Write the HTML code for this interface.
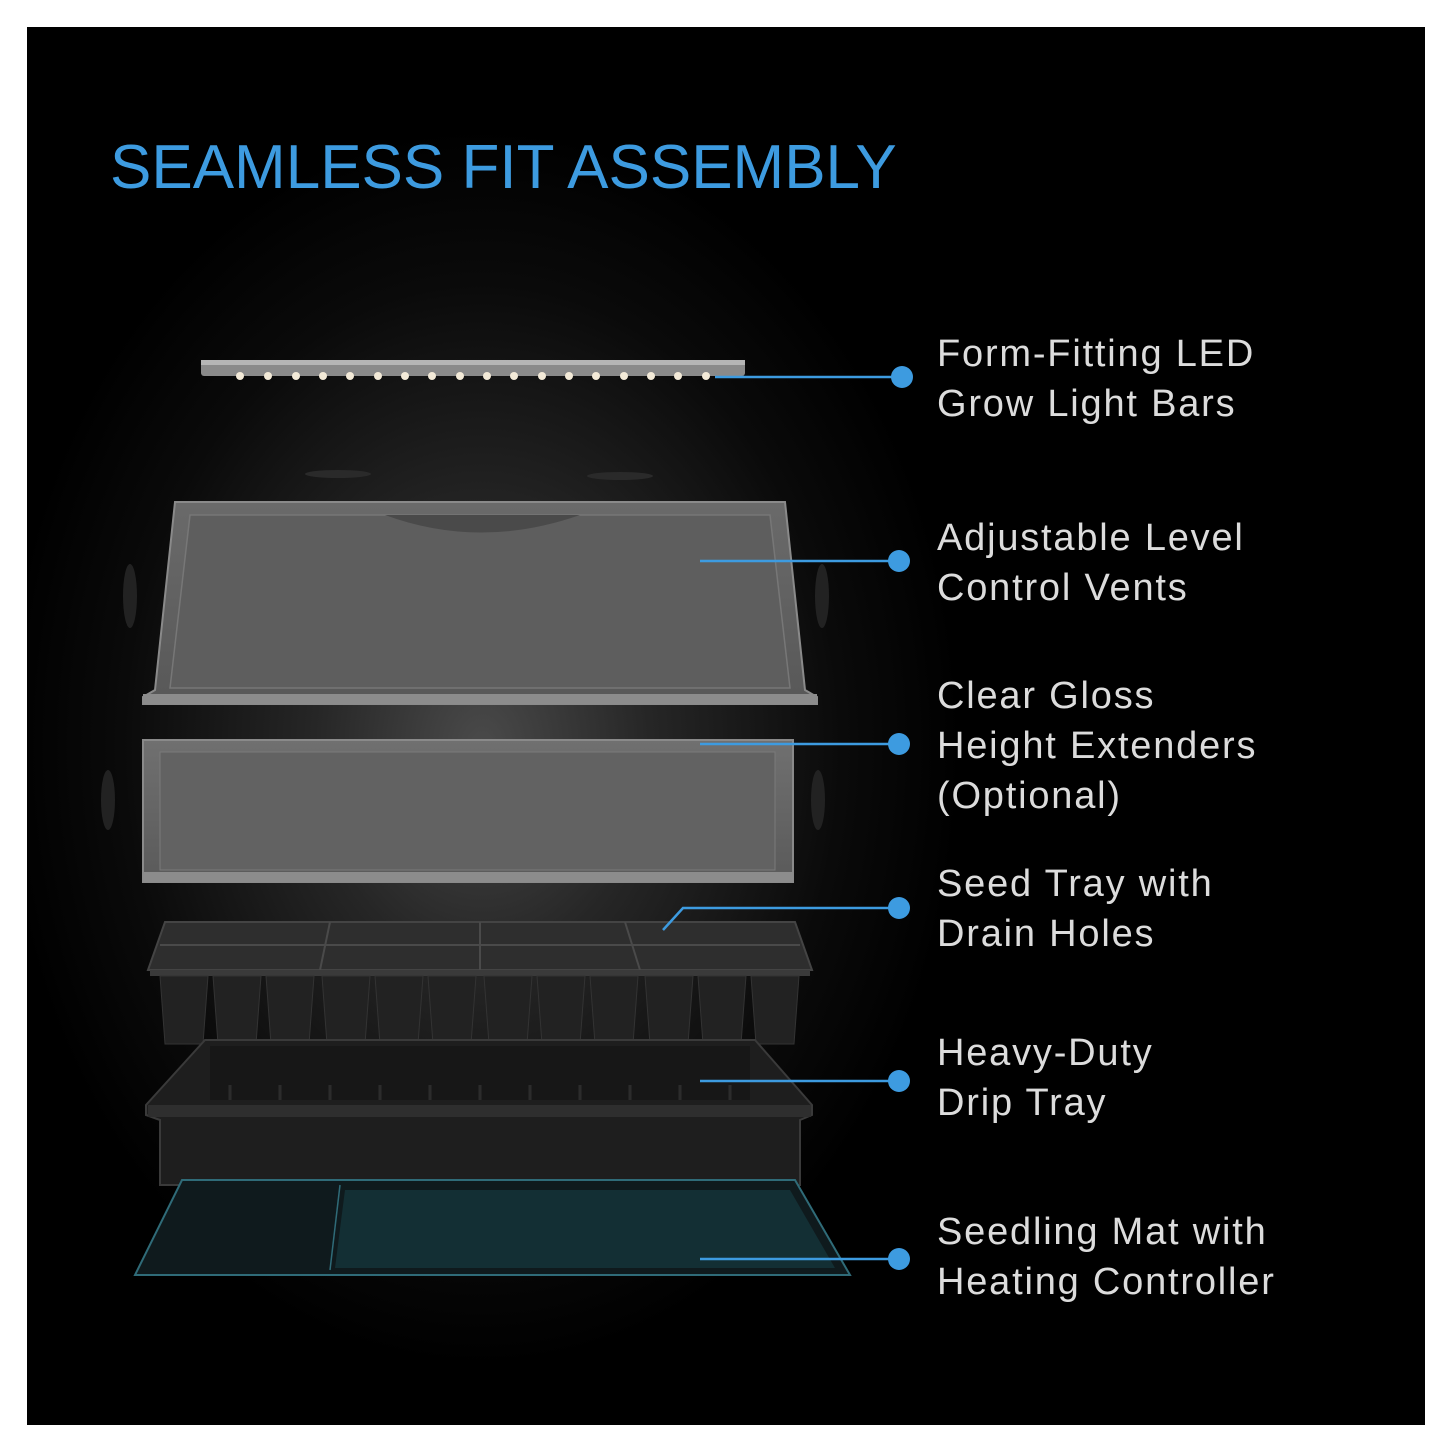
<!DOCTYPE html>
<html><head><style>
html,body{margin:0;padding:0;background:#fff;}
.wrap{position:relative;width:1445px;height:1445px;background:#fff;overflow:hidden;font-family:"Liberation Sans",sans-serif;}
.panel{position:absolute;left:27px;top:27px;width:1398px;height:1398px;background:radial-gradient(ellipse 480px 620px at 455px 720px,#4a4a4a 0%,#262626 35%,#0a0a0a 75%,#000 100%);}
.title{position:absolute;left:110px;top:132px;font-size:62px;color:#3d9be0;letter-spacing:0px;white-space:nowrap;}
.lbl{position:absolute;left:937px;font-size:38px;line-height:50px;color:#dcdcdc;white-space:nowrap;letter-spacing:1.8px;}
svg{position:absolute;left:0;top:0;}
</style></head><body><div class="wrap">
<div class="panel"></div>
<svg width="1445" height="1445" viewBox="0 0 1445 1445">
<defs>
<linearGradient id="dome" x1="0" y1="0" x2="0" y2="1"><stop offset="0" stop-color="#6a6a6a"/><stop offset="1" stop-color="#585858"/></linearGradient>
<linearGradient id="ext" x1="0" y1="0" x2="0" y2="1"><stop offset="0" stop-color="#707070"/><stop offset="1" stop-color="#5a5a5a"/></linearGradient>
</defs>
<rect x="201" y="360" width="544" height="16" rx="3" fill="#8a8a8a"/>
<rect x="201" y="360" width="544" height="5" fill="#b5b5b5"/>
<g fill="#f3ead8">
<circle cx="240" cy="376" r="4"/><circle cx="268" cy="376" r="4"/><circle cx="296" cy="376" r="4"/><circle cx="323" cy="376" r="4"/><circle cx="350" cy="376" r="4"/><circle cx="378" cy="376" r="4"/><circle cx="405" cy="376" r="4"/><circle cx="432" cy="376" r="4"/><circle cx="460" cy="376" r="4"/><circle cx="487" cy="376" r="4"/><circle cx="514" cy="376" r="4"/><circle cx="542" cy="376" r="4"/><circle cx="569" cy="376" r="4"/><circle cx="596" cy="376" r="4"/><circle cx="624" cy="376" r="4"/><circle cx="651" cy="376" r="4"/><circle cx="678" cy="376" r="4"/><circle cx="706" cy="376" r="4"/>
</g>
<ellipse cx="338" cy="474" rx="33" ry="4" fill="#2a2a2a"/>
<ellipse cx="620" cy="476" rx="33" ry="4" fill="#2a2a2a"/>
<path d="M175,502 L785,502 L805,690 L817,697 L817,704 L143,704 L143,697 L155,690 Z" fill="url(#dome)" stroke="#8a8a8a" stroke-width="2"/>
<path d="M190,515 L770,515 L790,688 L170,688 Z" fill="#5e5e5e" stroke="#777" stroke-width="1.5"/>
<path d="M385,515 Q480,550 580,515 Z" fill="#4a4a4a"/>
<rect x="143" y="694" width="674" height="10" fill="#8c8c8c"/>
<ellipse cx="130" cy="596" rx="7" ry="32" fill="#222"/>
<ellipse cx="822" cy="596" rx="7" ry="32" fill="#222"/>
<rect x="143" y="740" width="650" height="142" fill="url(#ext)" stroke="#8a8a8a" stroke-width="2"/>
<rect x="160" y="752" width="615" height="118" fill="#626262" stroke="#7a7a7a" stroke-width="1"/>
<rect x="143" y="872" width="650" height="10" fill="#8c8c8c"/>
<ellipse cx="108" cy="800" rx="7" ry="30" fill="#222"/>
<ellipse cx="818" cy="800" rx="7" ry="30" fill="#222"/>
<path d="M165,922 L795,922 L812,970 L148,970 Z" fill="#2e2e2e" stroke="#444" stroke-width="2"/>
<g stroke="#4a4a4a" stroke-width="2">
<line x1="160" y1="945" x2="800" y2="945"/>
<line x1="330" y1="922" x2="320" y2="970"/><line x1="480" y1="922" x2="480" y2="970"/><line x1="625" y1="922" x2="640" y2="970"/>
</g>
<rect x="150" y="970" width="660" height="6" fill="#3a3a3a"/>
<g fill="#222" stroke="#333" stroke-width="1">
<path d="M160,976 L208,976 L203,1044 L165,1044Z"/><path d="M213,976 L261,976 L256,1044 L218,1044Z"/><path d="M266,976 L314,976 L309,1044 L271,1044Z"/><path d="M322,976 L370,976 L365,1044 L327,1044Z"/><path d="M375,976 L423,976 L418,1044 L380,1044Z"/><path d="M428,976 L476,976 L471,1044 L433,1044Z"/><path d="M484,976 L532,976 L527,1044 L489,1044Z"/><path d="M537,976 L585,976 L580,1044 L542,1044Z"/><path d="M590,976 L638,976 L633,1044 L595,1044Z"/><path d="M645,976 L693,976 L688,1044 L650,1044Z"/><path d="M698,976 L746,976 L741,1044 L703,1044Z"/><path d="M751,976 L799,976 L794,1044 L756,1044Z"/>
</g>
<path d="M205,1040 L755,1040 L812,1105 L812,1115 L800,1120 L800,1185 L160,1185 L160,1120 L146,1115 L146,1105 Z" fill="#1e1e1e" stroke="#3a3a3a" stroke-width="2"/>
<path d="M210,1046 L750,1046 L750,1100 L210,1100 Z" fill="#171717"/>
<g stroke="#2c2c2c" stroke-width="3"><line x1="230" y1="1085" x2="230" y2="1100"/><line x1="280" y1="1085" x2="280" y2="1100"/><line x1="330" y1="1085" x2="330" y2="1100"/><line x1="380" y1="1085" x2="380" y2="1100"/><line x1="430" y1="1085" x2="430" y2="1100"/><line x1="480" y1="1085" x2="480" y2="1100"/><line x1="530" y1="1085" x2="530" y2="1100"/><line x1="580" y1="1085" x2="580" y2="1100"/><line x1="630" y1="1085" x2="630" y2="1100"/><line x1="680" y1="1085" x2="680" y2="1100"/><line x1="730" y1="1085" x2="730" y2="1100"/></g>
<rect x="148" y="1105" width="663" height="12" fill="#2e2e2e"/>
<path d="M182,1180 L795,1180 L850,1275 L135,1275 Z" fill="#0f1a1d" stroke="#2f6b78" stroke-width="2"/>
<path d="M340,1185 L330,1270" stroke="#2f6b78" stroke-width="1.5"/>
<path d="M345,1190 L790,1190 L835,1268 L335,1268 Z" fill="#15393f" opacity="0.7"/>
<g stroke="#3d9be0" stroke-width="2.5" fill="none">
<line x1="715" y1="377" x2="902" y2="377"/>
<line x1="700" y1="561" x2="899" y2="561"/>
<line x1="700" y1="744" x2="899" y2="744"/>
<polyline points="663,930 683,908 899,908"/>
<line x1="700" y1="1081" x2="899" y2="1081"/>
<line x1="700" y1="1259" x2="899" y2="1259"/>
</g>
<g fill="#3d9be0">
<circle cx="902" cy="377" r="11"/><circle cx="899" cy="561" r="11"/><circle cx="899" cy="744" r="11"/><circle cx="899" cy="908" r="11"/><circle cx="899" cy="1081" r="11"/><circle cx="899" cy="1259" r="11"/>
</g>
</svg>
<div class="title">SEAMLESS FIT ASSEMBLY</div>
<div class="lbl" style="top:329px">Form-Fitting LED<br>Grow Light Bars</div>
<div class="lbl" style="top:513px">Adjustable Level<br>Control Vents</div>
<div class="lbl" style="top:671px">Clear Gloss<br>Height Extenders<br>(Optional)</div>
<div class="lbl" style="top:859px">Seed Tray with<br>Drain Holes</div>
<div class="lbl" style="top:1028px">Heavy-Duty<br>Drip Tray</div>
<div class="lbl" style="top:1207px">Seedling Mat with<br>Heating Controller</div>
</div></body></html>
